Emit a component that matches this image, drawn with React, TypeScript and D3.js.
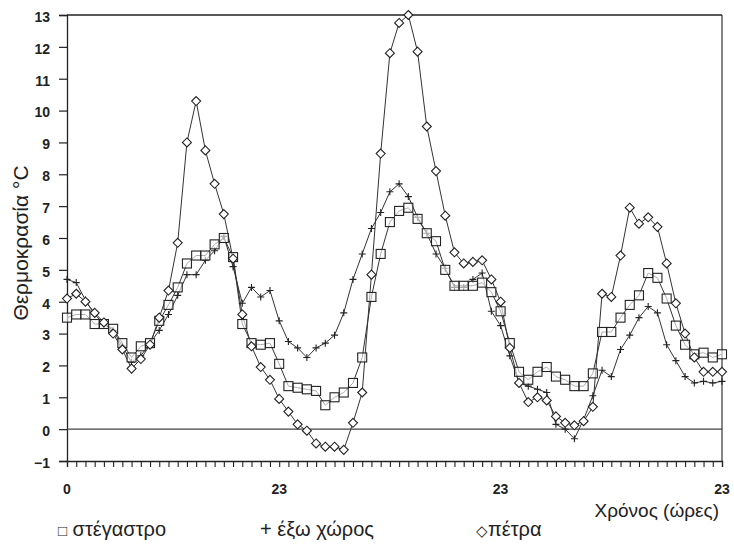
import React, { useEffect, useRef } from "react";
import * as d3 from "d3";

// hours 0..71 (three days of 24 hourly readings)
const hours = d3.range(72);
const xLabels = [
  { i: 0, text: "0" },
  { i: 23, text: "23" },
  { i: 47, text: "23" },
  { i: 71, text: "23" },
];
const yTicks = [-1, 0, 1, 2, 3, 4, 5, 6, 7, 8, 9, 10, 11, 12, 13];

// στέγαστρο (squares)
const stegastro = [
  3.5, 3.6, 3.6, 3.3, 3.3, 3.15, 2.7, 2.25, 2.6, 2.7, 3.4, 3.9, 4.45, 5.2, 5.45, 5.45, 5.8, 6.0,
  5.4, 3.3, 2.7, 2.65, 2.7, 2.05, 1.35, 1.3, 1.25, 1.2, 0.75, 1.0, 1.15, 1.45, 2.25, 4.15, 5.5, 6.5,
  6.85, 6.95, 6.6, 6.15, 5.9, 5.0, 4.5, 4.5, 4.5, 4.6, 4.3, 3.7, 2.7, 1.8, 1.55, 1.8, 1.95, 1.65,
  1.55, 1.35, 1.35, 1.75, 3.05, 3.05, 3.5, 3.9, 4.2, 4.9, 4.75, 4.1, 3.25, 2.65, 2.35, 2.4, 2.25, 2.35,
];

// έξω χώρος (plus)
const exo = [
  4.7, 4.6, 4.05, 3.6, 3.3, 3.1, 2.6, 2.1, 2.3, 2.7, 3.1, 3.6, 4.2, 4.85, 4.85, 5.3, 5.6, 6.05,
  5.1, 3.95, 4.45, 4.15, 4.35, 3.4, 2.75, 2.55, 2.25, 2.55, 2.7, 2.95, 3.65, 4.7, 5.5, 6.3, 6.8, 7.45,
  7.7, 7.3, 6.65, 6.15, 5.5, 5.05, 4.45, 4.45, 4.7, 4.9, 3.7, 3.25, 2.3, 1.45, 1.35, 1.25, 1.15, 0.15,
  0.0, -0.3, 0.3, 1.05, 1.85, 1.65, 2.5, 2.95, 3.5, 3.85, 3.65, 2.65, 2.15, 1.65, 1.45, 1.5, 1.45, 1.5,
];

// πέτρα (diamonds)
const petra = [
  4.1, 4.25, 4.0, 3.65, 3.35, 3.0, 2.5, 1.9, 2.2, 2.65, 3.5, 4.35, 5.85, 9.0, 10.3, 8.75, 7.7, 6.75,
  5.35, 3.6, 2.6, 1.95, 1.55, 0.95, 0.55, 0.15, -0.05, -0.45, -0.55, -0.55, -0.65, 0.2, 1.15, 4.85, 8.65, 11.8,
  12.75, 13.0, 11.85, 9.5, 8.1, 6.7, 5.55, 5.2, 5.25, 5.3, 4.7, 4.0, 2.55, 1.45, 0.85, 1.0, 0.9, 0.4,
  0.2, 0.12, 0.25, 0.7, 4.25, 4.15, 5.45, 6.95, 6.45, 6.65, 6.35, 5.2, 3.95, 3.0, 2.25, 1.8, 1.8, 1.8,
];

const FONT = "'Liberation Sans', Arial, sans-serif";
const INK = "#222";

function App() {
  const ref = useRef<SVGSVGElement>(null);

  useEffect(() => {
    const svg = d3.select(ref.current);
    svg.selectAll("*").remove();

    const left = 67;
    const right = 722;
    const top = 15;
    const bottom = 461;

    const x = d3.scaleLinear().domain([0, 71]).range([left, right]);
    const y = d3.scaleLinear().domain([-1, 13]).range([bottom, top]);

    const g = svg.append("g");

    // frame
    g.append("line")
      .attr("x1", left).attr("x2", right).attr("y1", top).attr("y2", top)
      .attr("stroke", INK).attr("stroke-width", 1.3);
    g.append("line")
      .attr("x1", right).attr("x2", right).attr("y1", top).attr("y2", bottom)
      .attr("stroke", INK).attr("stroke-width", 1.1);

    // y axis
    const yAxis = g.append("g").attr("transform", `translate(${left},0)`).call(
      d3.axisLeft(y).tickValues(yTicks).tickSize(8).tickPadding(9).tickFormat(d3.format("d"))
    );
    yAxis.select(".domain").attr("stroke", INK).attr("stroke-width", 1.3);
    yAxis.selectAll(".tick line").attr("stroke", INK).attr("stroke-width", 1.2);
    yAxis.selectAll(".tick text")
      .attr("font-family", FONT).attr("font-size", 14).attr("font-weight", "bold")
      .attr("fill", INK).attr("dy", "0.45em");

    // x axis along y = -1
    const xAxis = g.append("g").attr("transform", `translate(0,${bottom})`).call(
      d3.axisBottom(x).tickValues(hours).tickSize(6).tickFormat(() => "")
    );
    xAxis.select(".domain").attr("stroke", INK).attr("stroke-width", 1.3);
    xAxis.selectAll(".tick line").attr("stroke", INK).attr("stroke-width", 1.1);

    g.selectAll(".xlab")
      .data(xLabels)
      .enter()
      .append("text")
      .attr("x", (d) => x(d.i))
      .attr("y", bottom + 33)
      .attr("text-anchor", "middle")
      .attr("font-family", FONT).attr("font-size", 14).attr("font-weight", "bold")
      .attr("fill", INK)
      .text((d) => d.text);

    // zero line
    g.append("line")
      .attr("x1", left).attr("x2", right).attr("y1", y(0)).attr("y2", y(0))
      .attr("stroke", "#444").attr("stroke-width", 1.2);

    const line = d3.line<number>().x((_, i) => x(hours[i])).y((d) => y(d));

    const series = [
      { values: exo, shape: "plus" },
      { values: stegastro, shape: "square" },
      { values: petra, shape: "diamond" },
    ];

    series.forEach((s) => {
      g.append("path")
        .datum(s.values)
        .attr("d", line)
        .attr("fill", "none")
        .attr("stroke", "#333")
        .attr("stroke-width", 1);
    });

    series.forEach((s) => {
      const pts = g.append("g");
      s.values.forEach((v, i) => {
        const cx = x(hours[i]);
        const cy = y(v);
        if (s.shape === "square") {
          pts.append("rect")
            .attr("x", cx - 4.5).attr("y", cy - 4.5).attr("width", 9).attr("height", 9)
            .attr("fill", "white").attr("fill-opacity", 0.6)
            .attr("stroke", INK).attr("stroke-width", 1.1);
        } else if (s.shape === "diamond") {
          pts.append("path")
            .attr("d", `M${cx},${cy - 4.5}L${cx + 4.5},${cy}L${cx},${cy + 4.5}L${cx - 4.5},${cy}Z`)
            .attr("fill", "white")
            .attr("stroke", INK).attr("stroke-width", 1.1);
        } else {
          pts.append("path")
            .attr("d", `M${cx - 3.5},${cy}H${cx + 3.5}M${cx},${cy - 3.5}V${cy + 3.5}`)
            .attr("stroke", INK).attr("stroke-width", 1.1);
        }
      });
    });

    // axis titles
    g.append("text")
      .attr("transform", `translate(28,243) rotate(-90)`)
      .attr("text-anchor", "middle")
      .attr("font-family", FONT).attr("font-size", 21)
      .attr("fill", INK)
      .text("Θερμοκρασία °C");

    g.append("text")
      .attr("x", 719)
      .attr("y", 517)
      .attr("text-anchor", "end")
      .attr("font-family", FONT).attr("font-size", 19)
      .attr("fill", INK)
      .text("Χρόνος (ώρες)");

    // legend
    const legend = [
      { sym: "□", symSize: 15, label: " στέγαστρο", x: 58 },
      { sym: "+", symSize: 20, label: " έξω χώρος", x: 260 },
      { sym: "◇", symSize: 15, label: "πέτρα", x: 476 },
    ];
    const items = g.selectAll(".leg")
      .data(legend)
      .enter()
      .append("text")
      .attr("x", (d) => d.x)
      .attr("y", 536)
      .attr("font-family", FONT).attr("font-size", 20)
      .attr("fill", INK);
    items.append("tspan").attr("font-size", (d) => d.symSize).text((d) => d.sym);
    items.append("tspan").text((d) => d.label);
  }, []);

  return (
    <div style={{ position: "absolute", left: 0, top: 0 }}>
      <svg ref={ref} width={734} height={545} style={{ display: "block", background: "white" }}></svg>
    </div>
  );
}

export default App;
